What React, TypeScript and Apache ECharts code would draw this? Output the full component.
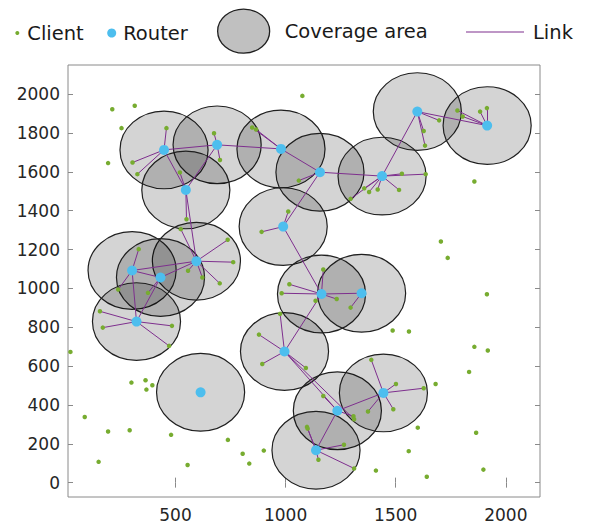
import React, { useEffect, useRef } from "react";
import * as echarts from "echarts";

// ---- data ----
const xTicks = [500, 1000, 1500, 2000];
const yTicks = [0, 200, 400, 600, 800, 1000, 1200, 1400, 1600, 1800, 2000];
const X_MIN = 12;
const X_MAX = 2155;
const Y_MIN = -74;
const Y_MAX = 2150;
const coverageRadius = 200;

// routers [x, y]
const routers: number[][] = [
  [448, 1713], // 0 A
  [689, 1739], // 1 B
  [547, 1507], // 2 C
  [979, 1718], // 3 D
  [989, 1318], // 4 E
  [595, 1140], // 5 F
  [303, 1092], // 6 G
  [432, 1056], // 7 H
  [323, 829], // 8 I
  [614, 465], // 9 J
  [995, 675], // 10 K
  [1156, 1598], // 11 L
  [1438, 1578], // 12 M
  [1598, 1910], // 13 N
  [1915, 1838], // 14 O
  [1163, 971], // 15 P
  [1345, 975], // 16 Q
  [1235, 370], // 17 R
  [1444, 462], // 18 S
  [1138, 167], // 19 T
];

// router-to-router links (router indexes)
const backbone: number[][] = [
  [0, 1], [0, 2], [1, 2], [1, 3], [3, 11], [11, 12], [12, 13], [13, 14],
  [11, 4], [4, 15], [2, 5], [5, 6], [5, 7], [6, 7], [6, 8], [7, 8],
  [15, 16], [15, 10], [10, 17], [17, 18], [17, 19],
];

// clients [x, y, linked router index or -1]
const clients: number[][] = [
  [459, 1825, 0], [305, 1648, 0], [327, 1588, 0],
  [675, 1799, 1], [702, 1661, 1],
  [520, 1597, 2], [550, 1356, 2],
  [848, 1828, 3], [866, 1818, 3],
  [1012, 1396, 4], [891, 1291, 4],
  [524, 1305, 5], [737, 1250, 5], [762, 1135, 5], [557, 1091, 5], [622, 1056, 5], [701, 1026, 5],
  [333, 1202, 6], [240, 994, 6],
  [375, 977, 7],
  [157, 882, 8], [170, 798, 8], [484, 807, 8], [471, 704, 8],
  [975, 869, 10], [879, 762, 10], [894, 611, 10], [1092, 590, 10],
  [1060, 1555, 11],
  [1295, 1461, 12], [1357, 1515, 12], [1379, 1496, 12], [1418, 1509, 12], [1515, 1507, 12], [1528, 1590, 12], [1636, 1588, 12],
  [1627, 1810, 13], [1633, 1735, 13], [1697, 1865, 13],
  [1780, 1916, 14], [1804, 1885, 14], [1883, 1910, 14], [1914, 1928, 14],
  [1171, 1097, 15], [1017, 1021, 15], [982, 975, 15], [1136, 936, 15], [1232, 945, 15],
  [1295, 901, 16],
  [1171, 446, 17], [1308, 342, 17], [1311, 326, 10],
  [1389, 632, 18], [1501, 508, 18], [1627, 486, 18], [1489, 378, 18], [1374, 366, 18],
  [1097, 287, 19], [1100, 278, 19], [1265, 195, 19], [1149, 118, 19], [1311, 73, 19],
  [213, 1922, -1], [315, 1940, -1], [255, 1825, -1], [194, 1645, -1], [10, 1547, -1],
  [1076, 1991, -1], [1857, 1550, -1], [1705, 1241, -1], [1736, 1157, -1], [1914, 970, -1],
  [1486, 783, -1], [1560, 778, -1], [1857, 699, -1], [1918, 680, -1], [1833, 570, -1],
  [1681, 508, -1], [1600, 283, -1], [1865, 257, -1], [1559, 162, -1], [1410, 62, -1],
  [1641, 30, -1], [1898, 67, -1], [23, 673, -1], [300, 515, -1], [364, 527, -1],
  [395, 501, -1], [368, 479, -1], [88, 338, -1], [194, 263, -1], [292, 270, -1],
  [151, 107, -1], [480, 246, -1], [555, 91, -1], [738, 220, -1], [805, 149, -1],
  [835, 98, -1], [901, 165, -1],
];

const CLIENT_COLOR = "#77AC30";
const ROUTER_COLOR = "#4DBEEE";
const LINK_COLOR = "#7E2F8E";
const BOX_COLOR = "#8a8a8a";

export default function App() {
  const ref = useRef<HTMLDivElement>(null);

  useEffect(() => {
    if (!ref.current) return;
    const chart = echarts.init(ref.current, undefined, { renderer: "svg" });

    const linkData: any[] = [];
    backbone.forEach(([a, b]) => {
      linkData.push({ coords: [routers[a], routers[b]] });
    });
    clients.forEach(([x, y, r]) => {
      if (r >= 0) linkData.push({ coords: [routers[r], [x, y]] });
    });

    const legendText = {
      fontFamily: "DejaVu Sans",
      fontSize: 19.5,
      color: "#1a1a1a",
      lineHeight: 22,
    };

    const tickStyle = { color: BOX_COLOR, width: 1 };
    const plain = (v: number) => String(v);

    const option: any = {
      animation: false,
      legend: [
        {
          data: [{ name: "Client", icon: "circle", itemStyle: { color: CLIENT_COLOR, borderWidth: 0 } }],
          left: 15.3, top: 22, padding: 0, itemWidth: 4, itemHeight: 4,
          selectedMode: false, textStyle: { ...legendText, padding: [0, 0, 0, 3] },
        },
        {
          data: [{ name: "Router", icon: "circle", itemStyle: { color: ROUTER_COLOR, borderWidth: 0 } }],
          left: 107.2, top: 22, padding: 0, itemWidth: 9, itemHeight: 9,
          selectedMode: false, textStyle: { ...legendText, padding: [0, 0, 0, 2] },
        },
        {
          data: [{
            name: "Coverage area",
            icon: "path://M0,22A26,22,0,1,1,52,22A26,22,0,1,1,0,22Z",
            itemStyle: { color: "#c0c0c0", borderColor: "#1f1f1f", borderWidth: 1.3 },
          }],
          left: 217, top: 8.5, padding: 0, itemWidth: 52, itemHeight: 44,
          selectedMode: false, textStyle: { ...legendText, padding: [0, 0, 0, 10] },
        },
        {
          data: [{ name: "Link", icon: "rect", itemStyle: { color: LINK_COLOR, borderWidth: 0 } }],
          left: 466, top: 21, padding: 0, itemWidth: 58, itemHeight: 1.2,
          selectedMode: false, textStyle: { ...legendText, padding: [0, 0, 0, 4] },
        },
      ],
      grid: {
        left: 68, right: 49, top: 65, bottom: 26,
        show: true, borderColor: BOX_COLOR, borderWidth: 1, backgroundColor: "transparent",
      },
      xAxis: [
        {
          type: "value", min: X_MIN, max: X_MAX, position: "bottom",
          axisLine: { show: false }, splitLine: { show: false },
          axisTick: { show: true, inside: true, length: 5, lineStyle: tickStyle, customValues: xTicks },
          axisLabel: { customValues: xTicks, formatter: plain, margin: 9, color: "#262626", fontSize: 17, fontFamily: "DejaVu Sans" },
        },
        {
          type: "value", min: X_MIN, max: X_MAX, position: "top",
          axisLine: { show: false }, splitLine: { show: false },
          axisTick: { show: true, inside: true, length: 5, lineStyle: tickStyle, customValues: xTicks },
          axisLabel: { show: false },
        },
      ],
      yAxis: [
        {
          type: "value", min: Y_MIN, max: Y_MAX, position: "left",
          axisLine: { show: false }, splitLine: { show: false },
          axisTick: { show: true, inside: true, length: 5, lineStyle: tickStyle, customValues: yTicks },
          axisLabel: { customValues: yTicks, formatter: plain, margin: 8, color: "#262626", fontSize: 17, fontFamily: "DejaVu Sans" },
        },
        {
          type: "value", min: Y_MIN, max: Y_MAX, position: "right",
          axisLine: { show: false }, splitLine: { show: false },
          axisTick: { show: true, inside: true, length: 5, lineStyle: tickStyle, customValues: yTicks },
          axisLabel: { show: false },
        },
      ],
      series: [
        {
          name: "Coverage area",
          type: "custom",
          xAxisIndex: 0,
          yAxisIndex: 0,
          z: 1,
          silent: true,
          encode: { x: 0, y: 1 },
          data: routers,
          renderItem: (params: any, api: any) => {
            const c = api.coord([api.value(0), api.value(1)]);
            const s = api.size([coverageRadius, coverageRadius]);
            return {
              type: "ellipse",
              shape: { cx: c[0], cy: c[1], rx: s[0], ry: s[1] },
              style: { fill: "rgba(0,0,0,0.17)", stroke: "#1f1f1f", lineWidth: 1.2 },
            };
          },
        },
        {
          name: "Link",
          type: "lines",
          coordinateSystem: "cartesian2d",
          xAxisIndex: 0,
          yAxisIndex: 0,
          z: 3,
          silent: true,
          lineStyle: { color: LINK_COLOR, width: 1, opacity: 1 },
          data: linkData,
        },
        {
          name: "Client",
          type: "scatter",
          z: 4,
          symbol: "circle",
          symbolSize: 4.5,
          itemStyle: { color: CLIENT_COLOR, opacity: 1 },
          data: clients.map(([x, y]) => [x, y]),
        },
        {
          name: "Router",
          type: "scatter",
          z: 5,
          symbol: "circle",
          symbolSize: 10,
          itemStyle: { color: ROUTER_COLOR, opacity: 1 },
          data: routers,
        },
      ],
    };

    chart.setOption(option);
    return () => chart.dispose();
  }, []);

  return (
    <div
      ref={ref}
      style={{ position: "fixed", left: 0, top: 0, width: 589, height: 523, background: "#fff" }}
    />
  );
}
